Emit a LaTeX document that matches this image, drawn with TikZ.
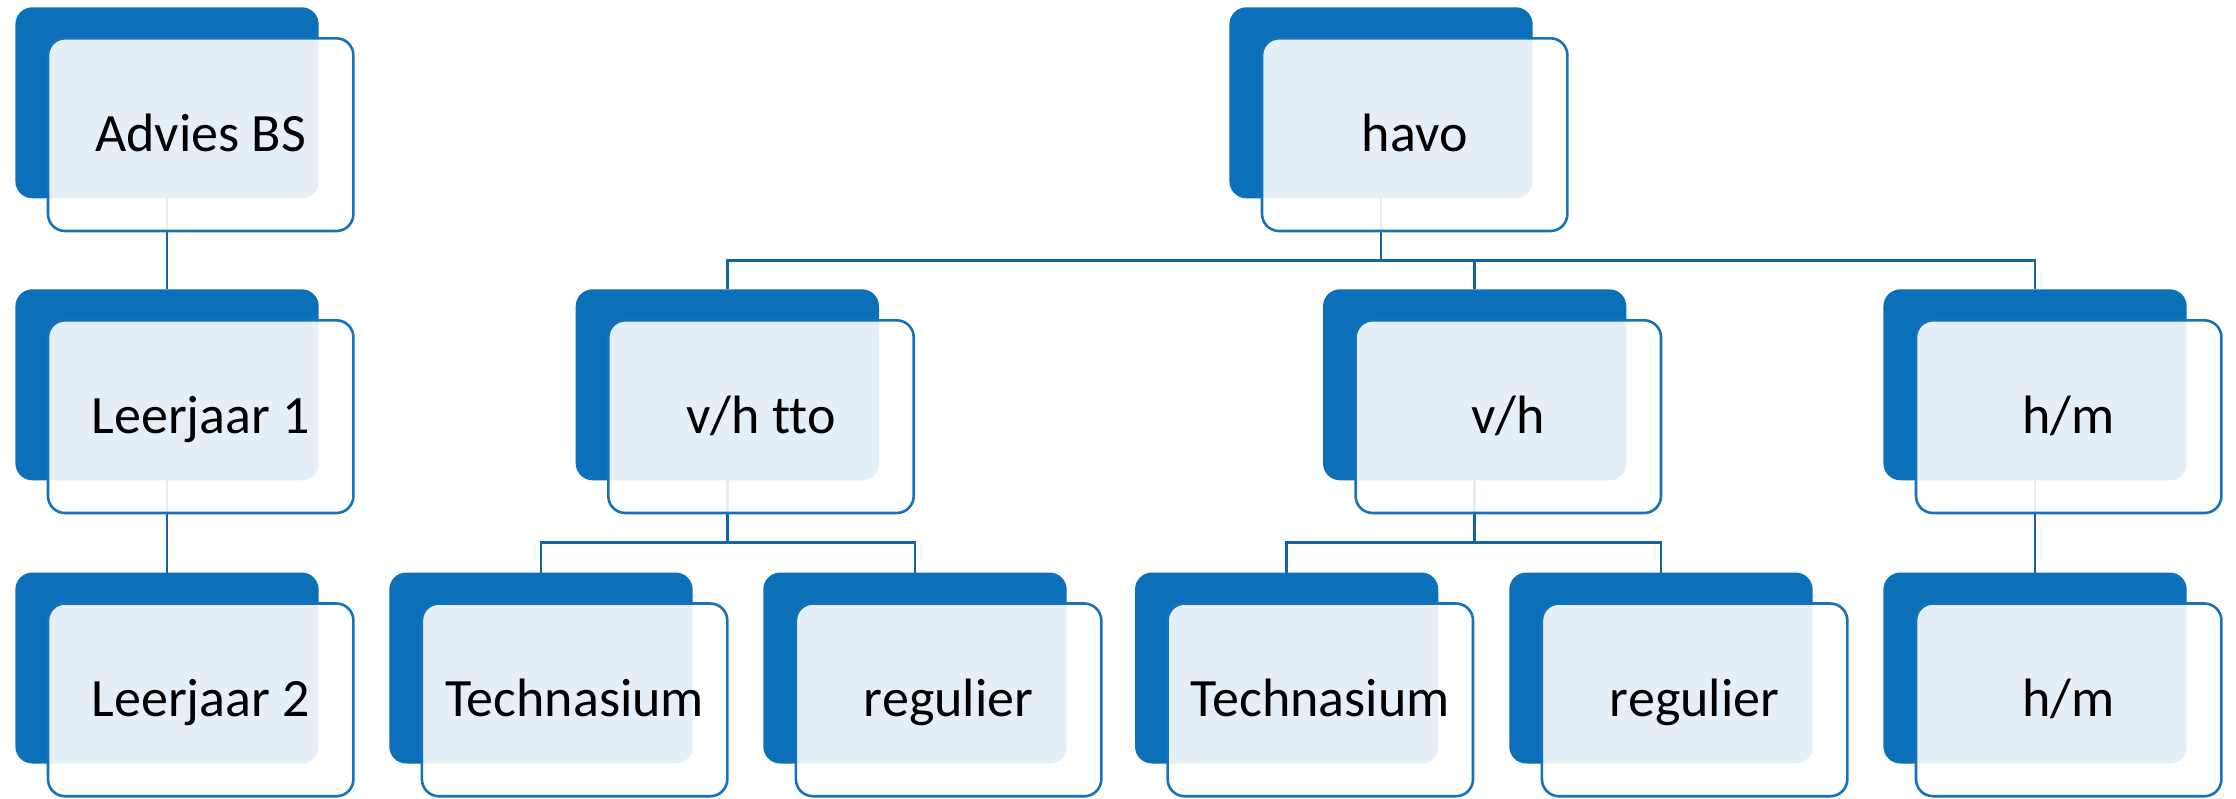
\documentclass[tikz,border=0pt]{standalone}
\usepackage{fontspec}
\setmainfont{Carlito}[Ligatures={NoCommon}]
\definecolor{cblue}{RGB}{11,112,184}
\definecolor{cedge}{RGB}{24,114,186}
\definecolor{cline}{RGB}{20,100,165}
\pgfdeclarelayer{bg}
\pgfsetlayers{bg,main}
\tikzset{
  bluebox/.style={anchor=north west, fill=cblue, draw=none, rounded corners=8.5pt,
    minimum width=151.65pt, minimum height=95.5pt, inner sep=0pt, outer sep=0pt},
  frontbox/.style={anchor=north west, fill=white, fill opacity=0.89, text opacity=1,
    draw=cedge, line width=1.3pt, rounded corners=8.5pt,
    minimum width=152.7pt, minimum height=96.35pt, inner sep=0pt, outer sep=0pt,
    text height=17pt, text depth=0pt, font=\fontsize{27}{32}\selectfont},
  conn/.style={draw=cline, line width=1.2pt}
}
\newcommand\orgunit[4]{%
  \node[bluebox] (#1b) at (#2,#3) {};
  \node[frontbox] (#1) at ([xshift=16.3pt,yshift=-15.5pt]#1b.north west) {#4};
}
\begin{document}
\begin{tikzpicture}[x=0.5pt,y=-0.5pt]
\useasboundingbox (0,0) rectangle (2236,798);
% row 1
\orgunit{A}{15.4}{7.3}{Advies BS}
\orgunit{H}{1229.4}{7.3}{havo}
% row 2
\orgunit{L1}{15.4}{289.3}{Leerjaar 1}
\orgunit{T}{575.7}{289.3}{v/h tto}
\orgunit{V}{1323}{289.3}{v/h}
\orgunit{M}{1883.4}{289.3}{h/m}
% row 3
\orgunit{L2}{15.4}{572.5}{Leerjaar 2}
\orgunit{T1}{389.3}{572.5}{Technasium}
\orgunit{R1}{763.3}{572.5}{regulier}
\orgunit{T2}{1135}{572.5}{Technasium}
\orgunit{R2}{1509.3}{572.5}{regulier}
\orgunit{M2}{1883.4}{572.5}{h/m}
\begin{pgfonlayer}{bg}
  \draw[conn] (Ab.south) -- (L1b.north);
  \draw[conn] (L1b.south) -- (L2b.north);
  \coordinate (hbus) at ([yshift=-31pt]Hb.south);
  \draw[conn] (Hb.south) -- (hbus);
  \draw[conn] (hbus) -| (Tb.north);
  \draw[conn] (hbus) -| (Vb.north);
  \draw[conn] (hbus) -| (Mb.north);
  \coordinate (tbus) at ([yshift=-31pt]Tb.south);
  \draw[conn] (Tb.south) -- (tbus);
  \draw[conn] (tbus) -| (T1b.north);
  \draw[conn] (tbus) -| (R1b.north);
  \coordinate (vbus) at ([yshift=-31pt]Vb.south);
  \draw[conn] (Vb.south) -- (vbus);
  \draw[conn] (vbus) -| (T2b.north);
  \draw[conn] (vbus) -| (R2b.north);
  \draw[conn] (Mb.south) -- (M2b.north);
\end{pgfonlayer}
\end{tikzpicture}
\end{document}
